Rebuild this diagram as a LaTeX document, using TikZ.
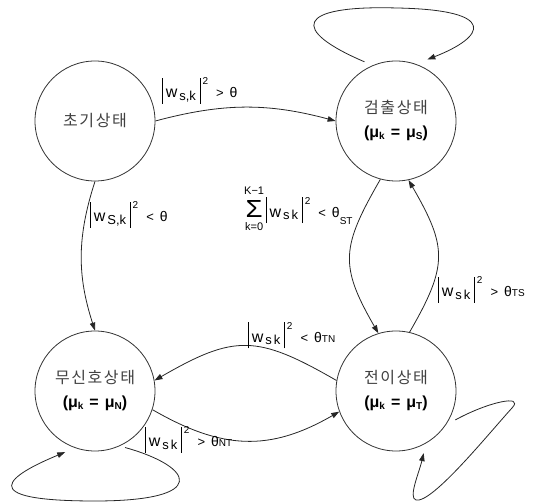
\documentclass[tikz,border=0pt]{standalone}
\usepackage{fontspec}
\usepackage{graphicx}
\setmainfont{Liberation Sans}
\newfontfamily\kr[LetterSpace=10]{Noto Sans CJK KR}
\usetikzlibrary{arrows.meta}
\newcommand{\fs}[1]{\fontsize{#1}{#1}\selectfont}
\newcommand{\vbarr}{\rule[-6pt]{0.6pt}{26pt}}
\newcommand{\wsq}[1]{\vbarr\hspace{3pt}{\fs{16}w}\hspace{2pt}\raisebox{-2.5pt}{\fs{13}#1}\hspace{4pt}\vbarr\hspace{2pt}\raisebox{13pt}{\fs{10}2}}
\newcommand{\lbl}[3]{\wsq{#1}\hspace{8pt}{\fs{13}#2}\hspace{6pt}{\fs{14}θ}{\fs{10}#3}}
\newcommand{\musub}[1]{μ\raisebox{-1.5pt}{\fs{10}#1}}
\newcommand{\muline}[1]{{\bfseries\fs{16}(\musub{k}\hspace{6pt}=\hspace{6pt}\musub{#1})}}
\newcommand{\sumstack}{\raisebox{3.5pt}{\begin{tabular}[c]{@{}c@{}}{\fs{11}K−1}\\[1.5pt]\resizebox{17pt}{17pt}{Σ}\\[-1pt]{\fs{11}k=0}\end{tabular}}}
\begin{document}
\begin{tikzpicture}[x=1pt,y=1pt,
  state/.style={circle,draw=black!80,line width=0.8pt,minimum size=120pt,inner sep=0pt,align=center,font=\fontsize{14}{24}\selectfont},
  conn/.style={draw=black!85,line width=0.8pt,-{Triangle[length=8pt,width=5.5pt]}},
  lab/.style={anchor=west,inner sep=0pt,font=\fs{14},text=black}]
\useasboundingbox (0,0) rectangle (543,502);
\node[state] (init) at (95,381) {{\kr\fs{16}\color{black!75}초기상태}};
\node[state] (det) at (396,381) {{\kr\fs{16}\color{black!75}검출상태}\\\muline{S}};
\node[state] (nosig) at (95,111) {{\kr\fs{16}\color{black!75}무신호상태}\\\muline{N}};
\node[state] (trans) at (396,111) {{\kr\fs{16}\color{black!75}전이상태}\\\muline{T}};

\draw[conn] (init.0) to[out=15,in=165] (det.180);
\draw[conn] (init.-90) to[bend right=18] (nosig.90);
\draw[conn] (det.-105) to[out=-120,in=120,looseness=1.3] (trans.107);
\draw[conn] (trans.77) to[out=60,in=-60,looseness=1.3] (det.-78);
\draw[conn] (trans.170) to[out=150,in=30,looseness=1.3] (nosig.10);
\draw[conn] (nosig.-18) to[out=-30,in=-150,looseness=1.1] (trans.-160);

\coordinate (dS) at ([shift={(118:67pt)}]det.center);
\coordinate (dE) at ([shift={(63:69pt)}]det.center);
\draw[conn] (dS) .. controls (290,472) and (295,497) .. (397,494) .. controls (500,492) and (485,465) .. (dE);

\coordinate (nS) at ([shift={(-62:64pt)}]nosig.center);
\coordinate (nE) at ([shift={(-116:68pt)}]nosig.center);
\draw[conn] (nS) .. controls (195,35) and (210,1) .. (95,1) .. controls (-30,1) and (10,27) .. (nE);

\coordinate (tS) at ([shift={(-26:66pt)}]trans.center);
\coordinate (tE) at ([shift={(-66:68pt)}]trans.center);
\draw[conn] (tS) .. controls (488,100) and (525,108) .. (512,94) .. controls (490,70) and (432,-2) .. (416,2) .. controls (408,4) and (419,29) .. (tE);

\node[lab] (l1) at (162,411) {\lbl{s,k}{>}{}};
\node[lab] (l2) at (90,287) {\lbl{S,k}{<}{}};
\node[lab] (l3) at (244,292) {\sumstack\hspace{2pt}\lbl{s\hspace{2pt}k}{<}{\raisebox{-7pt}{ST}}};
\node[lab] (l4) at (438,212) {\lbl{s\hspace{2pt}k}{>}{TS}};
\node[lab] (l5) at (248,166.5) {\lbl{s\hspace{2pt}k}{<}{TN}};
\node[lab] (l6) at (145,62) {\lbl{s\hspace{2pt}k}{>}{NT}};
\end{tikzpicture}
\end{document}
